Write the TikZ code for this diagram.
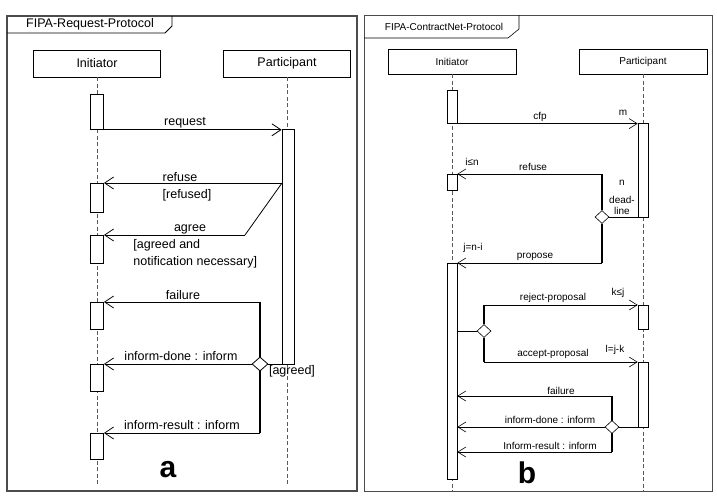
\documentclass[tikz,border=0pt]{standalone}
\usepackage{fontspec}
\setmainfont{Liberation Sans}
\usetikzlibrary{arrows.meta,shapes.geometric}
\tikzset{
  lifebox/.style={draw,minimum width=127pt,minimum height=27pt,inner sep=0pt},
  act/.style={draw,fill=white,minimum width=13pt,inner sep=0pt,anchor=north},
  msg/.style={-{Straight Barb[length=9pt,width=12pt]}},
  choice/.style={draw,diamond,fill=white,minimum width=16pt,minimum height=14pt,inner sep=0pt},
  lifeline/.style={dash pattern=on 4pt off 2.5pt,gray!70!black},
  guard/.style={line width=1.4pt},
  lbl/.style={inner sep=0pt}
}
\begin{document}
\begin{tikzpicture}[x=1pt,y=-1pt,line width=0.8pt]
\useasboundingbox (0,0) rectangle (717,498);
%cadre a
\draw[gray!60!black,line width=1.2pt] (7,16) rectangle (357,491);
\draw (7,33) -- (165,33) -- (172,26) -- (172,16);
\node[lbl,font=\fontsize{12.5}{15}\selectfont] (ta) at (90,24.5) {FIPA-Request-Protocol};
\begin{scope}[font=\fontsize{12.5}{15}\selectfont]
%acteurs
\node[lifebox] (ia) at (97,63.5) {Initiator};
\node[lifebox] (pa) at (287,63.5) {Participant};
\coordinate (iaend) at (97,485);
\coordinate (paend) at (287,485);
\draw[lifeline] (ia.south) -- (iaend);
\draw[lifeline] (pa.south) -- (paend);
%activations
\node[act,minimum height=35pt] (a1) at (97,94) {};
\node[act,minimum height=235pt,minimum width=12pt] (pact) at (288,129) {};
\node[act,minimum height=29pt] (a2) at (97,183) {};
\node[act,minimum height=28pt] (a3) at (97,235) {};
\node[act,minimum height=27pt] (a4) at (97,302) {};
\node[act,minimum height=27pt] (a5) at (97,364) {};
\node[act,minimum height=26pt] (a6) at (97,433) {};
%messages
\draw[msg] (a1.south east) -- (a1.south east -| pact.west);
\node[lbl] (lrq) at (185,123) {request};
\coordinate (rf) at (282,183);
\coordinate (ag) at (245,235);
\draw[msg] (rf) -- (a2.north east);
\draw (rf) -- (ag);
\draw[msg] (ag) -- (a3.north east);
\node[lbl] (lrf) at (180,177) {refuse};
\node[lbl] (lrfg) at (187,195) {[refused]};
\node[lbl] (lag) at (190,229) {agree};
\node[lbl,anchor=west,align=left,font=\fontsize{12.5}{17}\selectfont] (lagg) at (133,253.5) {[agreed and\\notification necessary]};
%resultat
\coordinate (fl) at (260,302);
\coordinate (ir) at (260,433);
\draw[guard] (fl) -- (ir);
\node[choice] (da) at (260,364) {};
\draw (da.east) -- (da -| pact.west);
\draw[msg] (fl) -- (a4.north east);
\draw[msg] (da.west) -- (a5.north east);
\draw[msg] (ir) -- (a6.north east);
\node[lbl] (lfl) at (183,295) {failure};
\node[lbl] (lid) at (181,356) {inform-done : inform};
\node[lbl] (lagd) at (292,371) {[agreed]};
\node[lbl] (lir) at (182,425) {inform-result : inform};
\node[lbl,font=\fontsize{30}{30}\bfseries] (na) at (168,470) {a};
\end{scope}
%cadre b
\begin{scope}[font=\fontsize{10}{12}\selectfont,line width=0.6pt,
  msg/.style={-{Straight Barb[length=8pt,width=10pt]}},
  act/.style={draw,fill=white,minimum width=10pt,inner sep=0pt,anchor=north}]
\draw[gray!60!black,line width=0.9pt] (364,15) rectangle (712,491);
\draw (364,38) -- (508,38) -- (519,29) -- (519,15);
\node[lbl] (tb) at (444,27) {FIPA-ContractNet-Protocol};
%acteurs
\node[lifebox,minimum width=128pt,minimum height=25pt] (ib) at (452,61.5) {Initiator};
\node[lifebox,minimum width=128pt,minimum height=25pt] (pb) at (643,61.5) {Participant};
\coordinate (ibend) at (452,491);
\coordinate (pbend) at (643,491);
\draw[lifeline] (ib.south) -- (ibend);
\draw[lifeline] (pb.south) -- (pbend);
%activations
\node[act,minimum height=33pt] (b1) at (452,90) {};
\node[act,minimum height=94pt] (bp1) at (643,123) {};
\node[act,minimum height=16pt] (b2) at (452,174) {};
\node[act,minimum height=216pt] (b3) at (452,263) {};
\node[act,minimum height=24pt] (bp2) at (643,305) {};
\node[act,minimum height=65pt] (bp3) at (643,362) {};
%cfp
\draw[msg] (b1.south east) -- (b1.south east -| bp1.west);
\node[lbl] (lcfp) at (540,117) {cfp};
\node[lbl] (lm) at (623,113) {m};
%refuse / propose
\coordinate (rfb) at (602,174);
\coordinate (pp) at (602,263);
\node[choice,minimum width=14pt,minimum height=13pt] (db1) at (602,217) {};
\draw[guard,line width=1.1pt] (rfb) -- (db1.north);
\draw[guard,line width=1.1pt] (db1.south) -- (pp);
\draw (db1.east) -- (db1 -| bp1.west);
\draw[msg] (rfb) -- (b2.north east);
\draw[msg] (pp) -- (b3.north east);
\node[lbl] (lin) at (472,162) {i≤n};
\node[lbl] (lrfb) at (533,167) {refuse};
\node[lbl] (ln) at (622,183) {n};
\node[lbl] (ldl) at (622,200) {dead-};
\node[lbl] (lline) at (622,211) {line};
\node[lbl] (ljn) at (473,248) {j=n-i};
\node[lbl] (lpr) at (535,257) {propose};
%reject / accept
\node[choice,minimum width=14pt,minimum height=13pt] (db2) at (484,331) {};
\coordinate (rj) at (484,305);
\coordinate (ac) at (484,362);
\draw (b3.east |- db2) -- (db2.west);
\draw[guard,line width=1.1pt] (db2.north) -- (rj);
\draw[guard,line width=1.1pt] (db2.south) -- (ac);
\draw[msg] (rj) -- (bp2.north west);
\draw[msg] (ac) -- (bp3.north west);
\node[lbl] (lrj) at (553,298) {reject-proposal};
\node[lbl] (lkj) at (618,293) {k≤j};
\node[lbl] (lac) at (553,354) {accept-proposal};
\node[lbl] (llj) at (615,350) {l=j-k};
%resultat
\coordinate (fb) at (612,396);
\coordinate (irb) at (612,452);
\draw[guard,line width=1.1pt] (fb) -- (irb);
\node[choice,minimum width=14pt,minimum height=13pt] (db3) at (612,427) {};
\draw (db3.east) -- (db3 -| bp3.west);
\draw[msg] (fb) -- (fb -| b3.east);
\draw[msg] (db3.west) -- (db3 -| b3.east);
\draw[msg] (irb) -- (irb -| b3.east);
\node[lbl] (lflb) at (561,391) {failure};
\node[lbl] (lidb) at (550,420) {inform-done : inform};
\node[lbl] (lirb) at (550,446) {Inform-result : inform};
\node[lbl,font=\fontsize{30}{30}\bfseries] (nb) at (527,473) {b};
\end{scope}
\end{tikzpicture}
\end{document}
